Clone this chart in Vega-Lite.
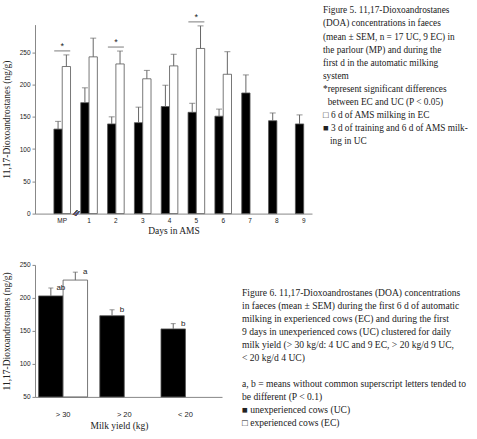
{
  "$schema": "https://vega.github.io/schema/vega-lite/v6.json",
  "background": "white",
  "padding": {"left": 1, "top": 5.6, "right": 4, "bottom": 4},
  "bounds": "flush",
  "align": "none",
  "columns": 2,
  "spacing": {"row": 51.3, "column": 11},
  "resolve": {"scale": {"xOffset": "independent"}},
  "config": {
    "view": {"stroke": null},
    "axis": {"domainColor": "#888", "tickColor": "#888", "grid": false, "labelFont": "Liberation Sans", "titleFont": "Liberation Serif", "titleFontWeight": "normal", "labelColor": "#222", "titleColor": "#222", "labelOverlap": false}
  },
  "datasets": {
    "doa": [
      {"day": "MP", "group": "UC", "mean": 131, "upper": 143, "sig": false},
      {"day": "MP", "group": "EC", "mean": 228, "upper": 246, "sig": true},
      {"day": "1", "group": "UC", "mean": 172, "upper": 195, "sig": false},
      {"day": "1", "group": "EC", "mean": 243, "upper": 272, "sig": false},
      {"day": "2", "group": "UC", "mean": 139, "upper": 150, "sig": false},
      {"day": "2", "group": "EC", "mean": 232, "upper": 252, "sig": true},
      {"day": "3", "group": "UC", "mean": 141, "upper": 165, "sig": false},
      {"day": "3", "group": "EC", "mean": 209, "upper": 222, "sig": false},
      {"day": "4", "group": "UC", "mean": 166, "upper": 199, "sig": false},
      {"day": "4", "group": "EC", "mean": 229, "upper": 247, "sig": false},
      {"day": "5", "group": "UC", "mean": 157, "upper": 171, "sig": false},
      {"day": "5", "group": "EC", "mean": 256, "upper": 291, "sig": true},
      {"day": "6", "group": "UC", "mean": 151, "upper": 162, "sig": false},
      {"day": "6", "group": "EC", "mean": 216, "upper": 251, "sig": false},
      {"day": "7", "group": "UC", "mean": 187, "upper": 215, "sig": false},
      {"day": "8", "group": "UC", "mean": 144, "upper": 156, "sig": false},
      {"day": "9", "group": "UC", "mean": 139, "upper": 153, "sig": false}
    ],
    "yield": [
      {"yield": "> 30", "group": "UC", "mean": 203, "upper": 215, "letter": "ab"},
      {"yield": "> 30", "group": "EC", "mean": 227, "upper": 239, "letter": "a"},
      {"yield": "> 20", "group": "UC", "mean": 173, "upper": 182, "letter": "b"},
      {"yield": "< 20", "group": "UC", "mean": 153, "upper": 161, "letter": "b"}
    ],
    "cap5": [
      {"text": "Figure 5. 11,17-Dioxoandrostanes\n(DOA) concentrations in faeces\n(mean ± SEM, n = 17 UC, 9 EC) in\nthe parlour (MP) and during the\nfirst d in the automatic milking\nsystem\n*represent significant differences\n\u200b\u00a0\u00a0between EC and UC (P < 0.05)\n□ 6 d of AMS milking in EC\n■ 3 d of training and 6 d of AMS milk-\n\u200b\u00a0\u00a0\u00a0ing in UC"}
    ],
    "cap6": [
      {"text": "Figure 6. 11,17-Dioxoandrostanes (DOA) concentrations\nin faeces (mean ± SEM) during the first 6 d of automatic\nmilking in experienced cows (EC) and during the first\n9 days in unexperienced cows (UC) clustered for daily\nmilk yield (> 30 kg/d: 4 UC and 9 EC, > 20 kg/d 9 UC,\n< 20 kg/d 4 UC)\n\u200b\u00a0\na, b = means without common superscript letters tended to\nbe different (P < 0.1)\n■ unexperienced cows (UC)\n□ experienced cows (EC)"}
    ]
  },
  "concat": [
    {
      "width": 277,
      "height": 189,
      "data": {"name": "doa"},
      "encoding": {
        "x": {"field": "day", "type": "nominal", "sort": null,
          "scale": {"domain": ["MP", "1", "2", "3", "4", "5", "6", "7", "8", "9"], "paddingInner": 0.381, "paddingOuter": 0.3525, "align": 1},
          "axis": {"title": "Days in AMS", "labelAngle": 0, "ticks": false, "tickSize": 0, "labelPadding": 4, "labelFontSize": 6.5, "titleFontSize": 9.5, "titlePadding": 1}},
        "y": {"field": "mean", "type": "quantitative", "scale": {"domain": [0, 293], "nice": false},
          "axis": {"values": [0, 50, 100, 150, 200, 250], "tickCount": 6, "labelOverlap": false, "labelFlush": false, "title": "11,17-Dioxoandrostanes (ng/g)", "tickSize": 3, "labelPadding": 2, "labelFontSize": 6.5, "titleFontSize": 9.5, "titlePadding": 8}}
      },
      "layer": [
        {
          "mark": {"type": "bar", "stroke": "#555", "strokeWidth": 0.8},
          "encoding": {
            "xOffset": {"field": "group", "type": "nominal", "scale": {"domain": ["UC", "EC"], "paddingInner": 0, "paddingOuter": 0}},
            "fill": {"field": "group", "type": "nominal", "scale": {"domain": ["UC", "EC"], "range": ["#000000", "#ffffff"]}, "legend": null}
          }
        },
        {
          "mark": {"type": "rule", "color": "#666", "strokeWidth": 1},
          "encoding": {
            "xOffset": {"field": "group", "type": "nominal", "scale": {"domain": ["UC", "EC"], "paddingInner": 0, "paddingOuter": 0}},
            "y2": {"field": "upper"}
          }
        },
        {
          "mark": {"type": "tick", "color": "#666", "size": 6, "thickness": 1},
          "encoding": {
            "xOffset": {"field": "group", "type": "nominal", "scale": {"domain": ["UC", "EC"], "paddingInner": 0, "paddingOuter": 0}},
            "y": {"field": "upper", "type": "quantitative"}
          }
        },
        {
          "transform": [{"filter": "datum.sig === true"}],
          "mark": {"type": "tick", "color": "#444", "size": 16, "thickness": 1, "yOffset": -4},
          "encoding": {"y": {"field": "upper", "type": "quantitative"}}
        },
        {
          "transform": [{"filter": "datum.sig === true"}],
          "mark": {"type": "text", "text": "*", "font": "Liberation Sans", "fontSize": 9, "baseline": "middle", "dy": -9, "color": "#222"},
          "encoding": {"y": {"field": "upper", "type": "quantitative"}}
        },
        {
          "mark": {"type": "text", "text": "//", "font": "Liberation Sans", "fontSize": 8, "angle": 25, "baseline": "middle", "dx": 5, "dy": -2, "color": "#555"},
          "encoding": {"x": {"datum": "MP", "bandPosition": 1}, "y": {"datum": 0}}
        }
      ]
    },
    {
      "width": 145,
      "height": 189,
      "data": {"name": "cap5"},
      "mark": {"type": "text", "align": "left", "baseline": "top", "lineBreak": "\n", "font": "Liberation Serif", "fontSize": 9.3, "lineHeight": 13.1, "dy": -18.2, "color": "#222"},
      "encoding": {
        "text": {"field": "text", "type": "nominal"},
        "x": {"datum": 0, "type": "quantitative", "scale": {"domain": [0, 1]}, "axis": null},
        "y": {"datum": 1, "type": "quantitative", "scale": {"domain": [0, 1]}, "axis": null}
      }
    },
    {
      "width": 187,
      "height": 132,
      "data": {"name": "yield"},
      "encoding": {
        "x": {"field": "yield", "type": "nominal", "sort": null,
          "scale": {"domain": ["> 30", "> 20", "< 20"], "paddingInner": 0.2, "paddingOuter": 0.128, "align": 0.23},
          "axis": {"title": "Milk yield (kg)", "labelAngle": 0, "ticks": false, "tickSize": 0, "labelPadding": 14, "labelFontSize": 7.5, "titleFontSize": 9.5, "titlePadding": 2, "titleX": 84}},
        "y": {"field": "mean", "type": "quantitative", "scale": {"domain": [50, 250], "nice": false, "zero": false},
          "axis": {"values": [50, 100, 150, 200, 250], "tickCount": 5, "labelOverlap": false, "labelFlush": false, "title": "11,17-Dioxoandrostanes (ng/g)", "tickSize": 3, "labelPadding": 2, "labelFontSize": 6.5, "titleFontSize": 9.5, "titlePadding": 8}}
      },
      "layer": [
        {
          "mark": {"type": "bar", "stroke": "#555", "strokeWidth": 0.8},
          "encoding": {
            "xOffset": {"field": "group", "type": "nominal", "scale": {"domain": ["UC", "EC"], "paddingInner": 0, "paddingOuter": 0}},
            "y2": {"datum": 50},
            "fill": {"field": "group", "type": "nominal", "scale": {"domain": ["UC", "EC"], "range": ["#000000", "#ffffff"]}, "legend": null}
          }
        },
        {
          "mark": {"type": "rule", "color": "#666", "strokeWidth": 1},
          "encoding": {
            "xOffset": {"field": "group", "type": "nominal", "scale": {"domain": ["UC", "EC"], "paddingInner": 0, "paddingOuter": 0}},
            "y2": {"field": "upper"}
          }
        },
        {
          "mark": {"type": "tick", "color": "#666", "size": 5, "thickness": 1},
          "encoding": {
            "xOffset": {"field": "group", "type": "nominal", "scale": {"domain": ["UC", "EC"], "paddingInner": 0, "paddingOuter": 0}},
            "y": {"field": "upper", "type": "quantitative"}
          }
        },
        {
          "mark": {"type": "text", "font": "Liberation Sans", "fontSize": 8, "align": "center", "baseline": "middle", "dx": 10, "color": "#222"},
          "encoding": {
            "xOffset": {"field": "group", "type": "nominal", "scale": {"domain": ["UC", "EC"], "paddingInner": 0, "paddingOuter": 0}},
            "y": {"field": "upper", "type": "quantitative"},
            "text": {"field": "letter", "type": "nominal"}
          }
        }
      ]
    },
    {
      "width": 145,
      "height": 100,
      "data": {"name": "cap6"},
      "mark": {"type": "text", "align": "left", "baseline": "top", "lineBreak": "\n", "font": "Liberation Serif", "fontSize": 9.6, "lineHeight": 13, "dx": -81, "dy": 23.6, "color": "#222"},
      "encoding": {
        "text": {"field": "text", "type": "nominal"},
        "x": {"datum": 0, "type": "quantitative", "scale": {"domain": [0, 1]}, "axis": null},
        "y": {"datum": 1, "type": "quantitative", "scale": {"domain": [0, 1]}, "axis": null}
      }
    }
  ]
}
